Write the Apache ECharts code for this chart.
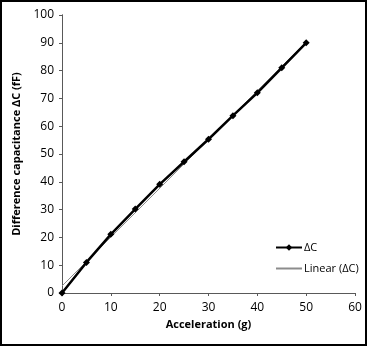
<!DOCTYPE html>
<html>
<head>
<meta charset="utf-8">
<script src="https://cdn.jsdelivr.net/npm/echarts@6/dist/echarts.min.js"></script>
<style>
    html, body { margin: 0; padding: 0; background: #fff; }
    #main {
        width: 367px;
        height: 346px;
        border: 2px solid #000;
        box-sizing: border-box;
    }
</style>
</head>
<body>
<div id="main"></div>
<script>
// acceleration (g) and measured difference capacitance (fF)
var accel = [0, 5, 10, 15, 20, 25, 30, 35, 40, 45, 50];
var deltaC = [0, 11, 21.1, 30.2, 39.1, 47.2, 55.3, 63.8, 72, 81, 90];
var xTicks = [0, 10, 20, 30, 40, 50, 60];
var yTicks = [0, 10, 20, 30, 40, 50, 60, 70, 80, 90, 100];

// least squares fit for the "Linear" trendline
function linearFit(xs, ys) {
    var n = xs.length, mx = 0, my = 0;
    for (var i = 0; i < n; i++) { mx += xs[i]; my += ys[i]; }
    mx /= n; my /= n;
    var sxy = 0, sxx = 0;
    for (var j = 0; j < n; j++) {
        sxy += (xs[j] - mx) * (ys[j] - my);
        sxx += (xs[j] - mx) * (xs[j] - mx);
    }
    var k = sxy / sxx;
    return { k: k, b: my - k * mx };
}
var fit = linearFit(accel, deltaC);
var x0 = accel[0], x1 = accel[accel.length - 1];
var trend = [[x0, fit.k * x0 + fit.b], [x1, fit.k * x1 + fit.b]];

var font = 'Open Sans, Liberation Sans, sans-serif';
var axisColor = '#595959';

var baseX = {
    type: 'value',
    min: xTicks[0], max: xTicks[xTicks.length - 1], interval: 10,
    axisLine: { lineStyle: { color: axisColor, width: 1 } },
    splitLine: { show: false }
};
var baseY = {
    type: 'value',
    min: yTicks[0], max: yTicks[yTicks.length - 1], interval: 10,
    axisLine: { show: true, lineStyle: { color: axisColor, width: 1 } },
    splitLine: { show: false }
};

var option = {
    animation: false,
    grid: { left: 60, right: 10, top: 13, bottom: 51 },
    legend: {
        orient: 'vertical',
        left: 268, top: 235,
        itemWidth: 26, itemHeight: 8, itemGap: 10,
        textStyle: { fontFamily: font, fontSize: 11, color: '#000', padding: [0, 0, 0, -3] },
        data: [
            'ΔC',
            { name: 'Linear (ΔC)', itemStyle: { opacity: 0 } }
        ]
    },
    xAxis: [
        Object.assign({}, baseX, {
            name: 'Acceleration (g)',
            nameLocation: 'middle', nameGap: 26,
            nameTextStyle: { fontFamily: font, fontSize: 11, fontWeight: 'bold', color: '#000' },
            axisTick: { length: 3, lineStyle: { color: axisColor } },
            axisLabel: { fontFamily: font, fontSize: 12, color: '#000', margin: 9 }
        }),
        Object.assign({}, baseX, {
            axisTick: { inside: true, length: 3, lineStyle: { color: axisColor } },
            axisLabel: { show: false }
        })
    ],
    yAxis: [
        Object.assign({}, baseY, {
            name: 'Difference capacitance ΔC (fF)',
            nameLocation: 'middle', nameGap: 38,
            nameTextStyle: { fontFamily: font, fontSize: 11, fontWeight: 'bold', color: '#000' },
            axisTick: { length: 3, lineStyle: { color: axisColor } },
            axisLabel: { fontFamily: font, fontSize: 12, color: '#000', margin: 8 }
        }),
        Object.assign({}, baseY, {
            axisTick: { inside: true, length: 3, lineStyle: { color: axisColor } },
            axisLabel: { show: false }
        })
    ],
    series: [
        {
            name: 'ΔC',
            type: 'line',
            data: accel.map(function (x, i) { return [x, deltaC[i]]; }),
            symbol: 'diamond',
            symbolSize: 7,
            lineStyle: { color: '#000', width: 2.5 },
            itemStyle: { color: '#000' },
            z: 2
        },
        {
            name: 'Linear (ΔC)',
            type: 'line',
            data: trend,
            symbol: 'none',
            lineStyle: { color: '#8c8c8c', width: 1 },
            itemStyle: { color: '#8c8c8c' },
            z: 1
        }
    ]
};

var myChart = echarts.init(document.getElementById('main'));
myChart.setOption(option);
</script>
</body>
</html>
